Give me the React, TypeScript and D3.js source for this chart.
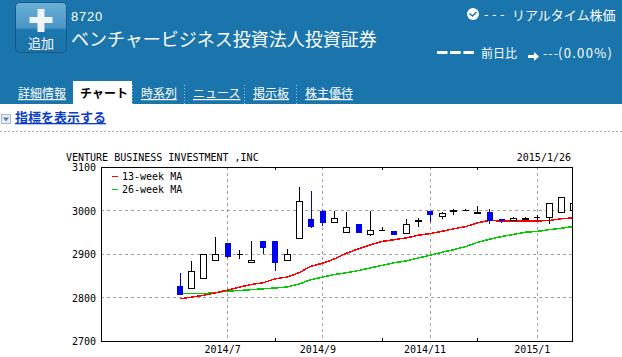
import React from "react";
import * as d3 from "d3";

const weeks = ["2014-06-09","2014-06-16","2014-06-23","2014-06-30","2014-07-07","2014-07-14","2014-07-21","2014-07-28","2014-08-04","2014-08-11","2014-08-18","2014-08-25","2014-09-01","2014-09-08","2014-09-15","2014-09-22","2014-09-29","2014-10-06","2014-10-13","2014-10-20","2014-10-27","2014-11-03","2014-11-10","2014-11-17","2014-11-24","2014-12-01","2014-12-08","2014-12-15","2014-12-22","2014-12-29","2015-01-05","2015-01-12","2015-01-19","2015-01-26"];
const opens = [2826,2820,2843,2885,2926,2900,2880,2929,2931,2885,2935,2981,2999,2972,2950,2969,2944,2955,2952,2946,2975,2998,2987,2998,3000,2993,2997,2981,2978,2979,2984,2983,2995,3000];
const closes = [2806,2860,2900,2900,2893,2900,2885,2913,2879,2900,3020,2962,2971,2981,2960,2948,2955,2955,2943,2967,2977,2989,2993,3000,3000,2995,2975,2976,2981,2982,2984,3015,3029,3015];
const highs = [2856,2885,2900,2940,2926,2910,2931,2929,2931,2912,3055,3045,3001,2999,2997,2969,2998,2963,2952,2981,2982,2998,2997,3004,3003,3011,3004,2981,2984,2984,2990,3015,3029,3015];
const lows = [2806,2820,2843,2885,2890,2888,2880,2900,2861,2885,2935,2959,2965,2972,2948,2948,2941,2955,2943,2946,2961,2973,2980,2990,3000,2993,2969,2971,2978,2979,2978,2969,2995,3000];
const ma13 = [2797,2801,2805,2811,2817,2824,2830,2834,2843,2847,2857,2872,2879,2889,2902,2912,2921,2929,2933,2937,2943,2947,2952,2958,2963,2972,2977,2976,2976,2976,2976,2977,2981,2983];
const ma26 = [2809,2809,2809,2811,2815,2816,2818,2820,2822,2824,2831,2841,2847,2853,2857,2862,2868,2874,2880,2884,2891,2897,2904,2910,2917,2927,2934,2940,2945,2950,2952,2956,2959,2963];
const yTicks = [2700,2800,2900,3000,3100];
const gridMonths = [["2014-07-07","2014/7"],["2014-09-01","2014/9"],["2014-11-03","2014/11"],["2015-01-05","2015/1"]];
const minorMonths = ["2014-08-04","2014-10-06","2014-12-01"];
const tabs = [["詳細情報",17,65],["時系列",140,176],["ニュース",192,236],["掲示板",252,288],["株主優待",304,352]] as const;

const BLUE = "#1975ab";
const MONO = "'DejaVu Sans Mono', monospace";
const JP = "'Noto Sans CJK JP', sans-serif";
const L = 101, R = 572, T = 167, B = 341;

export default function App() {
  const x = d3.scalePoint<string>().domain(weeks).range([180, 573]);
  const y = d3.scaleLinear().domain([2700, 3100]).range([B, T]);
  const line = (vals: number[]) => d3.line<number>().x((_, i) => x(weeks[i])!).y(d => y(d))(vals)!;
  const w = 6;
  return (
    <svg width={622} height={357} style={{ position: "absolute", left: 0, top: 0, background: "#fff" }}>
      <defs>
        <clipPath id="plot"><rect x={L} y={T} width={R - L} height={B - T} /></clipPath>
        <linearGradient id="btn" x1="0" y1="0" x2="0" y2="1">
          <stop offset="0" stopColor="#6cb0d6" />
          <stop offset="0.5" stopColor="#4a97c6" />
          <stop offset="0.55" stopColor="#1c78ae" />
          <stop offset="1" stopColor="#1a72a8" />
        </linearGradient>
      </defs>
      <rect width={622} height={104} fill={BLUE} />
      <rect x={15.5} y={2.5} width={51} height={50} rx={4} fill="url(#btn)" stroke="#175a88" />
      <path d="M37.5 9h7v8h8v6h-8v9h-7v-9h-8v-6h8z" fill="#f0f4f6" />
      <text x={41} y={48} textAnchor="middle" fontFamily={JP} fontSize={13} fill="#fff">追加</text>
      <text x={71} y={21} fontFamily="'Liberation Sans', sans-serif" fontSize={13} fill="#fff" letterSpacing={0.8}>8720</text>
      <text x={71} y={46} fontFamily={JP} fontSize={18} fill="#fff">ベンチャービジネス投資法人投資証券</text>
      <circle cx={473} cy={14} r={6} fill="#fff" />
      <path d="M469.5 13.5l3 2.5 4-4" stroke={BLUE} strokeWidth={1.5} fill="none" />
      <text x={484} y={19} fontFamily={JP} fontSize={13} fill="#fff" letterSpacing={3.5}>---</text>
      <text x={512} y={20} fontFamily={JP} fontSize={13} fill="#fff">リアルタイム株価</text>
      <path d="M437 52.5h37" stroke="#fff" strokeWidth={3} strokeDasharray="10.5 2.7" />
      <text x={481} y={58} fontFamily={JP} fontSize={12} fill="#fff">前日比</text>
      <path d="M528 55h6v-3l5 4.5-5 4.5v-3h-6z" fill="#fff" />
      <text x={543} y={58} fontFamily={JP} fontSize={12.5} fill="#fff" letterSpacing={1}>---</text>
      <text x={558} y={58} fontFamily={JP} fontSize={13} fill="#fff" letterSpacing={1.3}>(0.00%)</text>

      {tabs.map(([t, a, b], i) => (
        <g key={t}>
          <text x={a + 1} y={98} fontFamily={JP} fontSize={12} fill="#fff" textDecoration="underline">{t}</text>
          {i > 0 && <path d={`M${a - 7.5} 85V104`} stroke="#9cc8e0" strokeDasharray="1 2" />}
        </g>
      ))}
      <rect x={73} y={81} width={59} height={23} fill="#fff" />
      <text x={80} y={98} fontFamily={JP} fontSize={12} fontWeight={700} fill="#000">チャート</text>

      <rect x={1.5} y={114.5} width={9} height={9} fill="#e8eef6" stroke="#a8b8cc" />
      <path d="M3 117.5h6l-3 4z" fill="#5a7fb0" />
      <text x={15} y={122} fontFamily={JP} fontSize={13} fontWeight={700} fill="#0a3cc8" textDecoration="underline">指標を表示する</text>
      <path d="M0 131.5H622" stroke="#aaa" strokeDasharray="2 2" />

      <text x={66} y={161} fontFamily={MONO} fontSize={10} fill="#000">VENTURE BUSINESS INVESTMENT ,INC</text>
      <text x={571} y={161} textAnchor="end" fontFamily={MONO} fontSize={10} fill="#000">2015/1/26</text>

      <g shapeRendering="crispEdges">
        {yTicks.slice(1, -1).map(v => (
          <path key={v} d={`M${L} ${y(v)}H${R}`} stroke="#a0a0a0" strokeDasharray="3 3" />
        ))}
        {gridMonths.map(([d]) => (
          <path key={d} d={`M${x(d)} ${T}V${B}`} stroke="#a0a0a0" strokeDasharray="3 3" />
        ))}
        {minorMonths.map(d => (
          <path key={d} d={`M${x(d)} ${T}v3M${x(d)} ${B}v-3`} stroke="#000" />
        ))}
      </g>
      <g clipPath="url(#plot)" shapeRendering="crispEdges">
        <path d={line(ma26)} fill="none" stroke="#00cc00" strokeWidth={1.5} />
        <path d={line(ma13)} fill="none" stroke="#ff0000" strokeWidth={1.5} />
        {weeks.map((d, i) => {
          const down = closes[i] < opens[i];
          const color = down ? "#0000f0" : "#000";
          const top = y(Math.max(opens[i], closes[i]));
          const bot = y(Math.min(opens[i], closes[i]));
          const cx = x(d)!;
          return (
            <g key={d}>
              <path d={`M${cx} ${y(highs[i])}V${y(lows[i])}`} stroke={color} />
              {bot - top < 0.5 ? (
                <path d={`M${cx - w / 2} ${top}h${w}`} stroke={color} />
              ) : down ? (
                <rect x={cx - w / 2} y={top} width={w} height={bot - top} fill={color} />
              ) : (
                <rect x={cx - w / 2} y={top} width={w} height={bot - top} fill="#fff" stroke="#000" strokeWidth={1} />
              )}
            </g>
          );
        })}
      </g>
      <rect x={L} y={T} width={R - L} height={B - T} fill="none" stroke="#000" strokeWidth={1} shapeRendering="crispEdges" />
      {yTicks.map(v => (
        <text key={v} x={96} y={y(v) + 4} textAnchor="end" fontFamily={MONO} fontSize={10} fill="#000">{v}</text>
      ))}
      {gridMonths.map(([d, l]) => (
        <text key={d} x={x(d)! - 5} y={353} textAnchor="middle" fontFamily={MONO} fontSize={10} fill="#000">{l}</text>
      ))}
      <path d="M112 176h6" stroke="#ff0000" shapeRendering="crispEdges" />
      <path d="M112 189h6" stroke="#00cc00" shapeRendering="crispEdges" />
      <text x={122} y={180} fontFamily={MONO} fontSize={10} fill="#000">13-week MA</text>
      <text x={122} y={193} fontFamily={MONO} fontSize={10} fill="#000">26-week MA</text>
    </svg>
  );
}
